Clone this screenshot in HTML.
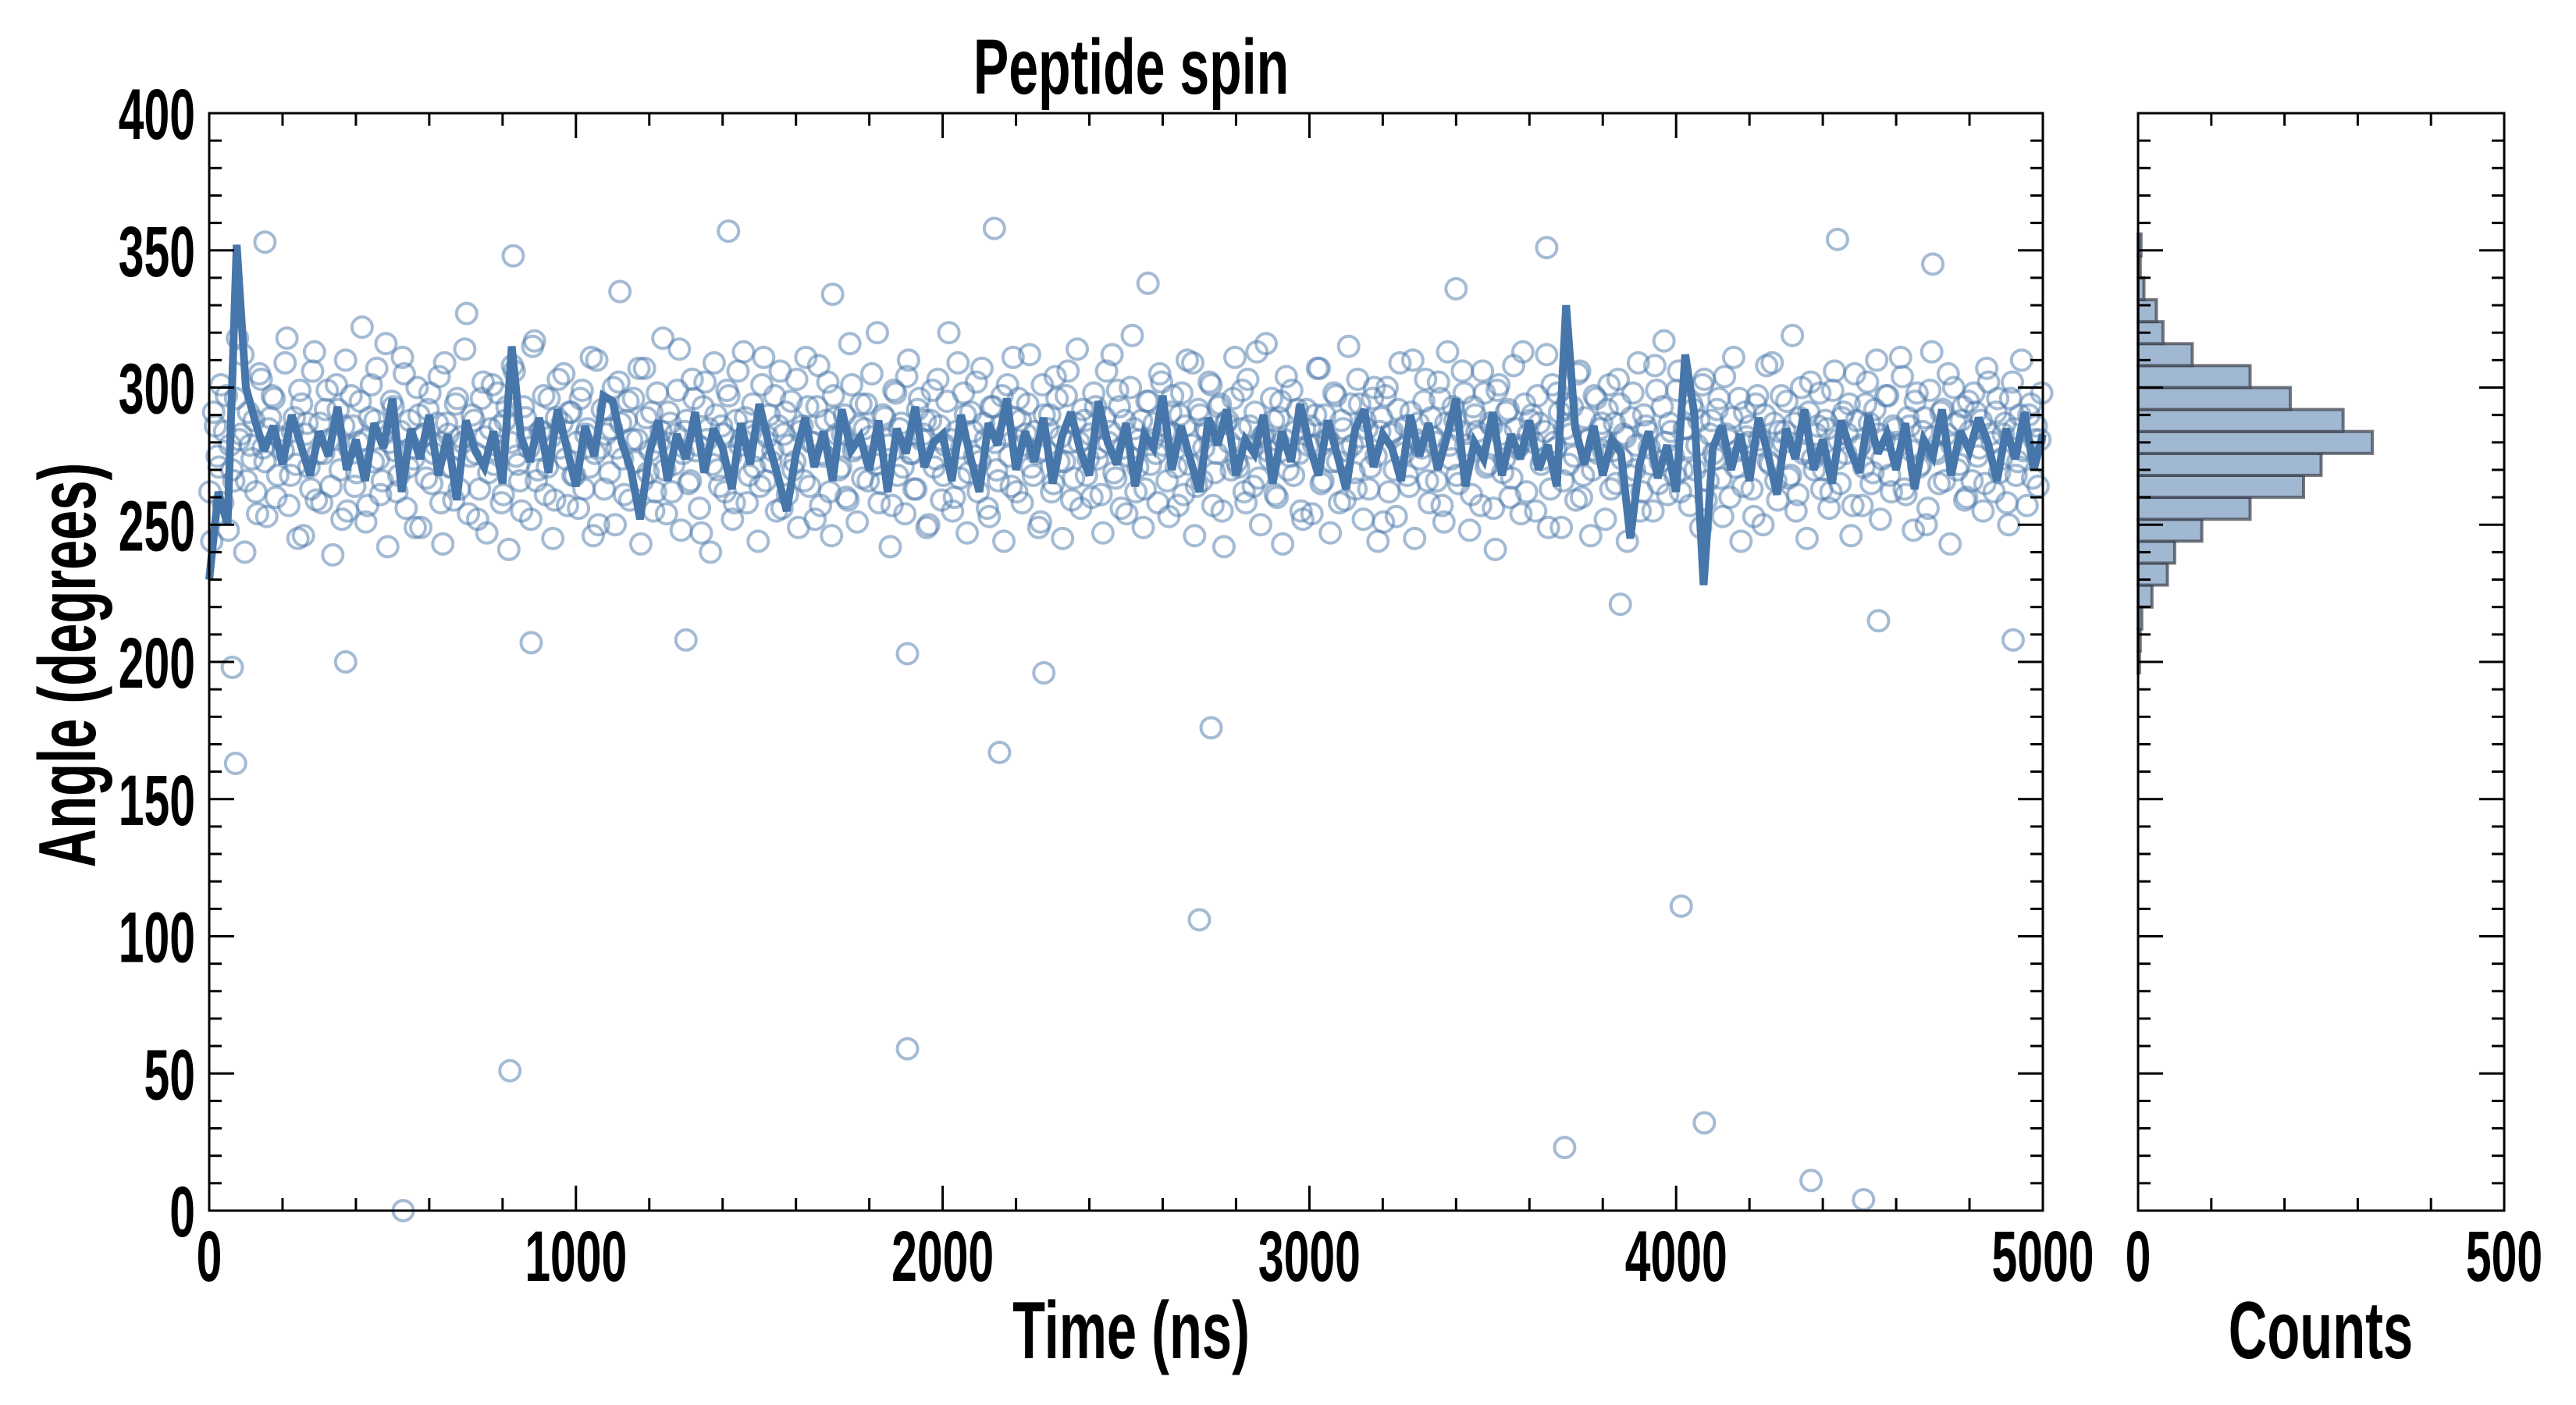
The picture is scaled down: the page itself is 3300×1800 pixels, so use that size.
<!DOCTYPE html>
<html><head><meta charset="utf-8"><style>
html,body{margin:0;padding:0;background:#fff;}
svg{display:block;font-family:"Liberation Sans Narrow","Liberation Sans",sans-serif;font-weight:bold;}
</style></head><body>
<svg id="chart" width="3300" height="1800" viewBox="0 0 3300 1800" xmlns="http://www.w3.org/2000/svg">
<rect width="3300" height="1800" fill="#fff"/>
<g id="scatter"></g>
<g id="line"></g>
<g id="hist"></g>
<g id="axes"></g>
<g id="labels"></g>
</svg>
<script>
// ---- data ----
const scatterStep = 10;
const scatterAngles = [
262,291,275,301,284,248,270,296,281,312,266,279,288,254,303,273,285,297,260,282,
277,318,268,289,245,294,283,271,306,259,287,276,299,264,281,292,252,310,278,286,
269,295,281,257,301,288,274,266,316,280,293,262,284,305,271,278,249,290,282,267,
298,276,287,258,309,283,271,294,263,280,327,275,288,252,296,282,269,301,277,286,
261,293,280,306,272,255,289,278,315,266,284,297,271,282,259,303,287,274,291,268,
280,296,263,285,311,276,250,292,283,269,300,278,287,261,295,281,273,307,266,289,
277,255,298,284,270,291,262,283,314,276,288,266,296,279,247,302,285,272,290,264,
283,299,275,258,306,281,289,268,294,277,264,311,282,273,297,286,256,291,279,270,
303,284,266,293,280,252,308,276,288,262,297,283,271,290,259,301,278,286,267,294,
282,274,320,265,289,279,257,298,285,271,304,276,263,292,281,288,250,299,274,286,
268,295,281,260,309,278,290,269,284,302,273,287,256,293,280,266,297,283,275,311,
262,288,279,294,271,284,249,301,277,290,265,296,282,273,306,259,287,280,292,268,
283,298,274,261,289,280,312,267,293,278,254,300,285,271,288,263,295,281,276,305,
279,266,291,283,257,298,286,272,309,264,290,278,284,301,269,293,255,287,280,296,
273,285,262,303,278,291,267,282,316,274,288,260,295,281,270,299,284,276,252,292,
286,279,307,265,290,281,273,297,258,285,277,294,269,303,282,288,263,296,275,284,
251,300,283,270,292,278,286,264,310,281,274,295,266,289,280,302,257,287,279,293,
268,284,298,276,261,290,282,306,271,287,256,299,283,274,292,267,285,279,313,262,
288,280,297,272,284,249,301,278,291,266,294,283,275,305,260,289,281,270,296,285,
277,292,263,287,303,274,282,268,298,279,255,290,284,272,308,265,293,280,287,275,
299,262,285,278,294,270,288,301,259,283,276,292,267,304,281,289,271,296,264,282,
286,253,297,279,290,273,309,266,284,280,295,268,287,261,300,277,291,274,283,298,
270,285,262,306,281,289,276,294,257,288,279,271,302,265,292,283,274,297,268,286,
280,311,263,289,277,295,271,284,250,299,282,276,291,266,305,279,287,272,293,260,
284,298,275,288,265,302,280,291,269,283,258,296,285,273,310,278,290,267,286,281
];
const scatterAngles2 = [
244,286,271,258,297,279,266,318,283,240,291,274,262,305,278,253,289,296,268,281,
309,257,284,272,299,246,287,263,313,276,258,292,281,239,301,270,286,255,297,264,
280,322,251,289,273,307,261,284,242,295,277,268,311,256,288,274,300,249,283,292,
265,279,304,243,287,271,259,296,282,314,254,290,276,263,302,247,285,272,298,258,
288,241,308,275,266,293,281,252,317,270,284,261,296,245,289,278,305,257,291,268,
256,299,283,271,246,310,278,263,292,285,250,302,274,288,259,296,281,243,307,269,
291,262,280,318,254,287,272,299,248,284,265,303,277,256,293,281,240,309,270,286,
262,297,252,288,279,313,258,284,271,244,301,266,290,277,255,306,283,261,295,273,
249,286,311,264,280,293,257,275,302,246,289,270,283,260,316,277,251,294,285,266,
305,272,258,290,281,242,299,268,287,254,310,276,263,296,283,249,288,271,303,259,
279,320,255,284,267,298,247,291,275,262,307,281,253,293,270,286,244,301,264,289,
296,258,283,312,268,276,251,290,285,262,304,273,245,297,280,267,314,256,288,274,
260,293,278,247,306,284,269,299,256,288,275,319,262,281,249,295,272,287,258,302,
284,253,297,271,290,261,310,279,246,292,266,285,302,257,276,294,242,288,270,311,
271,299,258,286,264,313,250,283,277,296,261,289,243,304,275,268,292,255,285,279,
254,290,307,266,281,247,298,273,288,259,315,279,263,294,252,285,271,300,244,289,
297,262,284,253,309,276,268,291,245,287,278,303,258,282,266,296,251,313,274,288,
265,306,279,248,293,284,257,298,272,286,241,301,269,291,260,308,278,254,294,283,
290,255,287,274,312,263,280,298,249,285,272,293,259,306,268,281,246,297,276,287,
252,301,277,265,294,283,244,289,270,309,262,286,278,255,299,273,317,261,284,268,
306,270,285,257,292,279,249,303,266,288,274,296,253,283,260,311,277,244,291,280,
263,294,281,250,308,272,287,259,297,284,267,319,255,289,276,245,302,270,286,263,
288,256,299,274,265,291,283,246,305,278,257,294,287,269,310,252,281,297,262,285,
279,304,261,286,248,298,272,289,256,313,277,265,292,283,243,300,270,288,259,295,
266,291,278,255,307,283,262,296,274,287,250,302,268,290,277,257,294,281,264,298
];
const outlierTimes = [63,72,529,820,1904,1904,2155,2276,2700,2732,3696,4014,4077,4368,4511,372,878,1300,4919,4552,3848,1416,2141,4440,3647,829,152,1120,2560,3400,4700,1700];
const outlierAngles = [198,163,0,51,59,203,167,196,106,176,23,111,32,11,4,200,207,208,208,215,221,357,358,354,351,348,353,335,338,336,345,334];
const lineStep = 25;
const lineAngles = [
230,262,250,352,300,288,277,286,272,290,279,268,284,275,293,270,281,266,287,278,
296,262,285,274,290,268,283,259,288,277,271,284,265,315,282,273,289,269,292,278,
264,286,275,297,295,280,270,252,276,288,266,283,274,291,269,285,278,263,287,272,
294,280,268,255,276,289,271,284,266,292,277,282,270,288,262,285,276,293,271,280,
283,266,290,275,262,287,279,296,270,284,273,289,265,282,291,277,268,295,280,272,
287,264,283,278,297,270,286,274,262,289,279,292,268,281,276,290,265,284,273,294,
279,268,288,276,263,285,292,271,283,278,266,290,275,287,270,282,296,264,280,274,
291,268,283,274,288,270,279,264,330,285,272,286,268,281,276,245,272,284,267,279,
262,312,290,228,278,286,270,283,266,289,276,261,285,274,292,270,281,265,288,277,
269,290,276,283,270,287,263,281,275,292,268,284,277,289,280,266,285,274,291,270,
283
];
const histBinStart = [196,204,212,220,228,236,244,252,260,268,276,284,292,300,308,316,324,332,340,348];
const histCounts = [2,3,5,19,40,50,87,153,226,250,320,280,208,153,74,34,25,8,3,4];
const histBinWidth = 8;
const xTicks = [0,1000,2000,3000,4000,5000];
const yTicks = [0,50,100,150,200,250,300,350,400];
const histTicks = [0,500];

// ---- geometry ----
const PL=268, PR=2617, PT=145, PB=1551;
const HL=2739, HR=3208;
const xScale = t => PL + (t/5000)*(PR-PL);
const yScale = a => PB - (a/400)*(PB-PT);
const hScale = c => HL + (c/500)*(HR-HL);
const NS="http://www.w3.org/2000/svg";
function mk(tag, attrs, parent){const e=document.createElementNS(NS,tag);for(const k in attrs)e.setAttribute(k,attrs[k]);parent.appendChild(e);return e;}

// scatter
const sg=document.getElementById('scatter');
function dot(t,a){
  const c=mk('circle',{cx:xScale(t),cy:yScale(a),r:13,fill:'none',stroke:'#4a78aa','stroke-width':4,'stroke-opacity':0.5},sg);
  
  
}
scatterAngles.forEach((a,i)=>dot(i*scatterStep+2,a));
scatterAngles2.forEach((a,i)=>dot(i*scatterStep+7,a));
outlierTimes.forEach((t,i)=>dot(t,outlierAngles[i]));

// line
const lg=document.getElementById('line');
const pts=lineAngles.map((a,i)=>xScale(Math.min(i*lineStep,5000)).toFixed(1)+','+yScale(a).toFixed(1)).join(' ');
const pl=mk('polyline',{points:pts,fill:'none',stroke:'#4676aa','stroke-width':10,'stroke-linejoin':'miter','stroke-miterlimit':3},lg);



// histogram
const hg=document.getElementById('hist');
histCounts.forEach((c,i)=>{
  const y1=yScale(histBinStart[i]+histBinWidth), y0=yScale(histBinStart[i]);
  const r=mk('rect',{x:HL,y:y1,width:hScale(c)-HL,height:y0-y1,fill:'#a1b8d2',stroke:'#3a3f4a','stroke-opacity':0.7,'stroke-width':4},hg);
  
  
});

// axes
const ag=document.getElementById('axes');
function frame(x0,x1,name){
  const r=mk('rect',{x:x0,y:PT,width:x1-x0,height:PB-PT,fill:'none',stroke:'#000','stroke-width':3},ag);
  
  
}
frame(PL,PR,'main-plot-frame');
frame(HL,HR,'histogram-frame');
function line(x1,y1,x2,y2){mk('line',{x1,y1,x2,y2,stroke:'#000','stroke-width':3},ag);}
for(let a=0;a<=400;a+=10){
  const y=yScale(a), L=(a%50===0)?32:16;
  line(PL,y,PL+L,y); line(PR,y,PR-L,y);
  line(HL,y,HL+L,y); line(HR,y,HR-L,y);
}
for(let t=0;t<=5000;t+=200){
  const x=xScale(t), L=(t%1000===0)?32:16;
  line(x,PB,x,PB-L); line(x,PT,x,PT+L);
}
for(let c=0;c<=500;c+=100){
  const x=hScale(c), L=(c%500===0)?32:16;
  line(x,PB,x,PB-L); line(x,PT,x,PT+L);
}

// condensed text helper
const lab=document.getElementById('labels');
function ctext(x,y,size,anchor,str,sx,rot){
  const g=mk('g',{transform:'translate('+x+','+y+')'+(rot?' rotate('+rot+')':'')+' scale('+sx+',1)'},lab);
  const t=mk('text',{x:0,y:0,'font-size':size,'text-anchor':anchor},g);
  t.textContent=str;
  return t;
}
yTicks.forEach(v=>{
  const t=ctext(PL-18,yScale(v)+33,92,'end',v,0.64,0);
  
  
});
xTicks.forEach(v=>{
  const t=ctext(xScale(v),1641,92,'middle',v,0.64,0);
  
  
});
histTicks.forEach(v=>{
  const t=ctext(hScale(v),1641,92,'middle',v,0.64,0);
  
  
});
let tt=ctext(1449,120,100,'middle','Peptide spin',0.68,0);


tt=ctext(1449,1740,104,'middle','Time (ns)',0.66,0);


tt=ctext(2973,1740,104,'middle','Counts',0.66,0);


const yg=mk('g',{transform:'translate(122,852) rotate(-90) scale(0.66,1)'},lab);
tt=mk('text',{x:0,y:0,'font-size':104,'text-anchor':'middle'},yg);
tt.textContent='Angle (degrees)';


</script>
</body></html>
